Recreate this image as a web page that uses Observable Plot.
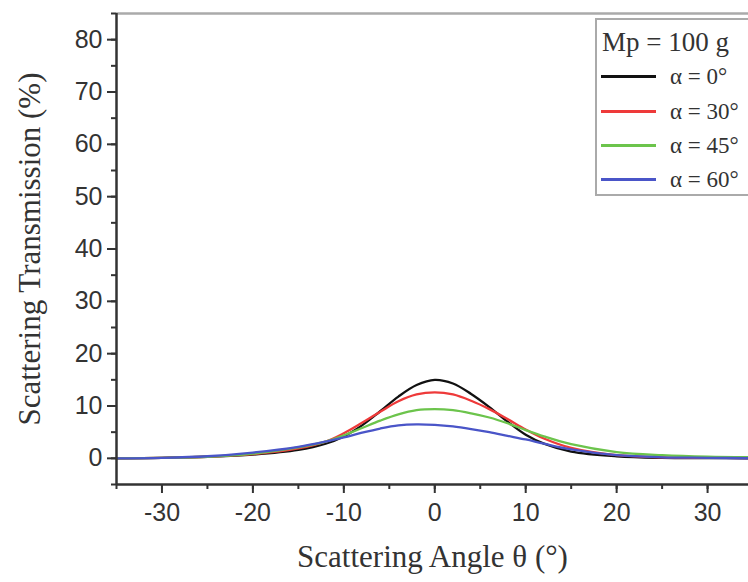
<!DOCTYPE html>
<html>
<head>
<meta charset="utf-8">
<script src="https://cdn.jsdelivr.net/npm/d3@7"></script>
<script src="https://cdn.jsdelivr.net/npm/@observablehq/plot@0.6"></script>
<style>
  html, body { margin: 0; padding: 0; background: #fff; overflow: hidden; }
  #wrap { position: relative; width: 748px; height: 582px; }
  #legend { position: absolute; left: 595px; top: 18px; width: 170px; height: 178px;
    border: 2px solid #aaa; border-right: none; background: #fff; box-sizing: border-box;
    font-family: "Liberation Serif", "Times New Roman", serif; color: #333; }
  #legend .title { position: absolute; left: 5px; top: 6px; font-size: 27px; line-height: 32px; white-space: nowrap; }
  #legend .row { position: absolute; left: 4px; height: 26px; white-space: nowrap; font-size: 23px; line-height: 26px; }
  #legend .row span.line { position: absolute; left: 0; top: 11px; width: 55px; height: 3px; }
  #legend .row span.lab { position: absolute; left: 69px; top: 0; }
</style>
</head>
<body>
<div id="wrap"></div>
<script>
// Data
const theta = [-35, -30, -25, -20, -15, -12, -10, -8, -6, -4, -2, 0, 2, 4, 6, 8, 10, 12, 15, 20, 25, 30, 35];
const alpha0  = [0, 0.1, 0.3, 0.7, 1.6, 2.8, 4.2, 6.3, 9.0, 11.8, 14.0, 15.0, 14.3, 12.3, 9.8, 7.0, 4.5, 2.8, 1.3, 0.4, 0.1, 0.05, 0];
const alpha30 = [0, 0.1, 0.3, 0.8, 1.9, 3.2, 4.8, 6.8, 8.9, 10.9, 12.2, 12.6, 12.2, 11.0, 9.4, 7.5, 5.5, 3.8, 2.0, 0.6, 0.2, 0.1, 0.05];
const alpha45 = [0, 0.1, 0.3, 0.9, 2.1, 3.2, 4.4, 5.8, 7.2, 8.4, 9.2, 9.4, 9.2, 8.6, 7.8, 6.7, 5.4, 4.2, 2.7, 1.2, 0.6, 0.3, 0.2];
const alpha60 = [0, 0.1, 0.4, 1.1, 2.2, 3.2, 4.0, 4.9, 5.7, 6.3, 6.5, 6.4, 6.1, 5.6, 5.0, 4.3, 3.6, 2.8, 1.7, 0.6, 0.2, 0.1, 0];
const seriesNames = ["α = 0°", "α = 30°", "α = 45°", "α = 60°"];
const seriesColors = ["#111111", "#ee3a3a", "#6cc44c", "#4a55c8"];
const legendTitle = "Mp = 100 g";
const xTicks = [-30, -20, -10, 0, 10, 20, 30];
const yTicks = [0, 10, 20, 30, 40, 50, 60, 70, 80];
const xLabel = "Scattering Angle θ (°)";
const yLabel = "Scattering Transmission (%)";

const allSeries = [alpha0, alpha30, alpha45, alpha60];
const rows = [];
allSeries.forEach((vals, i) => vals.forEach((v, j) => rows.push({theta: theta[j], value: v, series: seriesNames[i]})));

const tickFont = "Liberation Sans, Arial, sans-serif";
const serif = "Liberation Serif, Times New Roman, serif";
const fmt = d => String(d);

const chart = Plot.plot({
  width: 748,
  height: 582,
  marginLeft: 116,
  marginRight: 0,
  marginTop: 13,
  marginBottom: 98,
  style: { background: "#fff", color: "#333" },
  x: { domain: [-35, 34.5], label: null },
  y: { domain: [-5, 85], label: null },
  color: { domain: seriesNames, range: seriesColors },
  marks: [
    Plot.line(rows, { x: "theta", y: "value", stroke: "series", z: "series", strokeWidth: 2.3, curve: "catmull-rom" }),
    Plot.ruleY([85], { stroke: "#aaa", strokeWidth: 2.5 }),
    Plot.ruleX([-35], { stroke: "#333", strokeWidth: 2.5 }),
    Plot.ruleY([-5], { stroke: "#333", strokeWidth: 2.5 }),
    Plot.axisY(d3.range(-5, 86, 5), { tickSize: 5, tickFormat: () => "", stroke: "#333", strokeWidth: 2, label: null }),
    Plot.axisY(yTicks, { tickSize: 9, tickPadding: 5, tickFormat: fmt, fontSize: 25, fontFamily: tickFont, fill: "#333", stroke: "#333", strokeWidth: 2, label: null }),
    Plot.axisX(d3.range(-35, 35, 5), { tickSize: 5, tickFormat: () => "", stroke: "#333", strokeWidth: 2, label: null }),
    Plot.axisX(xTicks, { tickSize: 9, tickPadding: 10, tickFormat: fmt, fontSize: 25, fontFamily: tickFont, fill: "#333", stroke: "#333", strokeWidth: 2, label: null }),
    Plot.text([xLabel], { frameAnchor: "bottom", dy: 82, textAnchor: "middle", fontSize: 31, fontFamily: serif, fill: "#333" }),
    Plot.text([yLabel], { frameAnchor: "left", dx: -86, rotate: -90, textAnchor: "middle", fontSize: 31, fontFamily: serif, fill: "#333" })
  ]
});

const wrap = document.getElementById("wrap");
wrap.appendChild(chart);

// Legend
const leg = document.createElement("div");
leg.id = "legend";
const t = document.createElement("div");
t.className = "title";
t.textContent = legendTitle;
leg.appendChild(t);
const rowTops = [44, 79, 113, 147];
seriesNames.forEach((name, i) => {
  const r = document.createElement("div");
  r.className = "row";
  r.style.top = rowTops[i] + "px";
  const l = document.createElement("span");
  l.className = "line";
  l.style.background = seriesColors[i];
  const s = document.createElement("span");
  s.className = "lab";
  s.textContent = name;
  r.appendChild(l); r.appendChild(s);
  leg.appendChild(r);
});
wrap.appendChild(leg);
</script>
</body>
</html>
